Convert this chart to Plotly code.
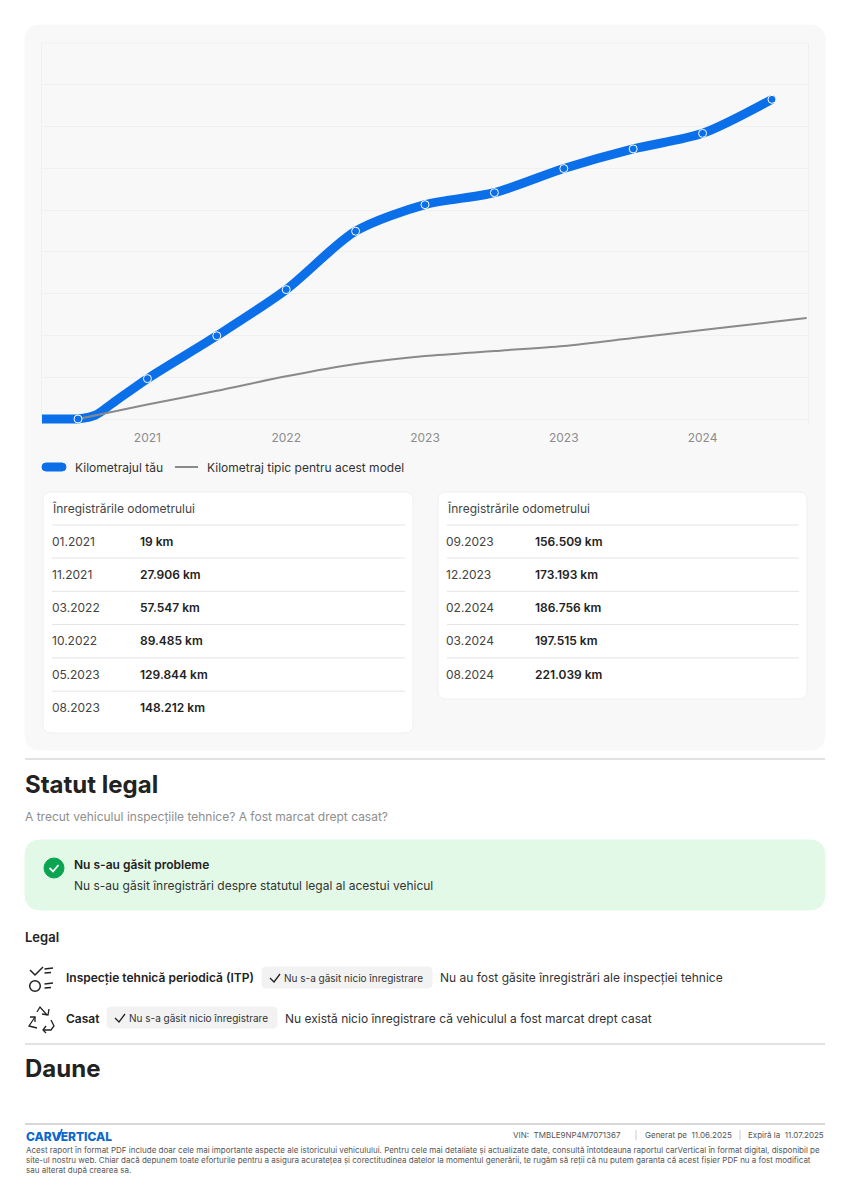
import plotly.graph_objects as go

W = 849
H = 1200
FONT = 'Inter'

# valori
point_index = [0, 1, 2, 3, 4, 5, 6, 7, 8, 9, 10]
odometer_km = [19, 27906, 57547, 89485, 129844, 148212, 156509, 173193, 186756, 197515, 221039]
odometer_dates = ['01.2021', '11.2021', '03.2022', '10.2022', '05.2023', '08.2023',
                  '09.2023', '12.2023', '02.2024', '03.2024', '08.2024']
# portiunea plata de la inceputul curbei
lead_in_index = [-0.519, -0.1]
lead_in_km = [19, 19]
early_index = [0.25, 0.5]
early_km = [2600, 11000]

typical_index = [0, 1, 2, 3, 4, 5, 6, 7, 8, 9, 10, 10.5]
typical_km = [19, 10000, 19500, 29500, 38000, 43500, 47000, 50500, 56000, 61500, 67000, 69800]

tick_index = [1, 3, 5, 7, 9]
tick_labels = ['2021', '2022', '2023', '2023', '2024']


def px(x):
    return x / W


def py(y):
    return 1 - y / H


def rounded(x0, y0, x1, y1, r):
    p = [(x0 + r, y0), (x1 - r, y0), (x1, y0), (x1, y0 + r), (x1, y1 - r), (x1, y1),
         (x1 - r, y1), (x0 + r, y1), (x0, y1), (x0, y1 - r), (x0, y0 + r), (x0, y0), (x0 + r, y0)]
    p = [(px(a), py(b)) for a, b in p]
    s = f'M{p[0][0]},{p[0][1]} L{p[1][0]},{p[1][1]} '
    s += f'Q{p[2][0]},{p[2][1]} {p[3][0]},{p[3][1]} L{p[4][0]},{p[4][1]} '
    s += f'Q{p[5][0]},{p[5][1]} {p[6][0]},{p[6][1]} L{p[7][0]},{p[7][1]} '
    s += f'Q{p[8][0]},{p[8][1]} {p[9][0]},{p[9][1]} L{p[10][0]},{p[10][1]} '
    s += f'Q{p[11][0]},{p[11][1]} {p[12][0]},{p[12][1]} Z'
    return s


shapes = []
annotations = []


def box(x0, y0, x1, y1, r, fill, line=None):
    shapes.append(dict(type='path', xref='paper', yref='paper', path=rounded(x0, y0, x1, y1, r),
                       fillcolor=fill, line=dict(color=line or fill, width=1), layer='below'))


def hline(x0, x1, y, color='#e4e4e4', width=1):
    shapes.append(dict(type='line', xref='paper', yref='paper', x0=px(x0), x1=px(x1), y0=py(y), y1=py(y),
                       line=dict(color=color, width=width), layer='below'))


def stroke(points, color='#222222', width=1.3):
    s = 'M' + ' L'.join(f'{px(a)},{py(b)}' for a, b in points)
    shapes.append(dict(type='path', xref='paper', yref='paper', path=s,
                       line=dict(color=color, width=width), layer='above'))


def circle(cx, cy, r, fill=None, color='#222222', width=1.3):
    shapes.append(dict(type='circle', xref='paper', yref='paper', x0=px(cx - r), x1=px(cx + r),
                       y0=py(cy - r), y1=py(cy + r), fillcolor=fill or 'rgba(0,0,0,0)',
                       line=dict(color=color, width=width), layer='above'))


def text(x, y, s, size=12, color='#333333', weight=400, anchor='left'):
    annotations.append(dict(x=px(x), y=py(y), xref='paper', yref='paper', text=s, showarrow=False,
                            xanchor=anchor, yanchor='middle', align='left', borderpad=0, borderwidth=0,
                            font=dict(family=FONT, size=size, color=color, weight=weight)))


def km_label(v):
    return f'{v:,}'.replace(',', '.') + ' km'


def odometer_table(x0, x1, y1, dates, values):
    box(x0, 492, x1, y1, 8, '#ffffff', '#f0f0f0')
    text(x0 + 8.5, 508, 'Înregistrările odometrului', 12, '#444444')
    hline(x0 + 9, x1 - 8, 525)
    for i, (d, v) in enumerate(zip(dates, values)):
        y = 541 + i * 33.3
        text(x0 + 8.5, y, d, 12, '#444444')
        text(x0 + 97, y, km_label(v), 12, '#222222', 600)
        if i < len(dates) - 1:
            hline(x0 + 9, x1 - 8, y + 17)


# fundaluri
box(25, 25, 825, 750, 16, '#f8f8f8')
stroke([(42, 43), (808, 43)], '#f0f0f0', 1)

# legenda
box(42, 463, 66, 471, 4, '#0a6fe8')
text(75, 467, 'Kilometrajul tău', 12, '#333333')
hline(175, 198, 467, '#8a8a8a', 2)
text(207, 467, 'Kilometraj tipic pentru acest model', 12, '#333333')

odometer_table(43, 413, 733, odometer_dates[:6], odometer_km[:6])
odometer_table(438, 807, 699, odometer_dates[6:], odometer_km[6:])

# statut legal
hline(25, 825, 759, '#e2e2e2', 2)
text(25, 784, 'Statut legal', 24, '#222222', 700)
text(25, 816, 'A trecut vehiculul inspecțiile tehnice? A fost marcat drept casat?', 12, '#8e8e8e')
box(25, 840, 825, 910, 16, '#e3f9e7')
circle(54, 868, 10, '#0ba552', '#0ba552', 1)
stroke([(49.5, 868), (53, 871.5), (58.5, 865)], '#ffffff', 1.8)
text(74, 864, 'Nu s-au găsit probleme', 12, '#222222', 600)
text(74, 885, 'Nu s-au găsit înregistrări despre statutul legal al acestui vehicul', 12, '#333333')

text(25, 936.5, 'Legal', 13, '#222222', 600)

# iconite
stroke([(30, 970), (35, 975), (43, 967)], width=1.5)
stroke([(44.5, 969), (53, 968)])
stroke([(44.5, 973), (51, 972.5)])
circle(35, 986, 5.3, width=1.5)
stroke([(44.5, 984), (53, 983)])
stroke([(44.5, 988), (51, 987.5)])
stroke([(37, 1012), (40, 1007), (47, 1015)])
stroke([(49, 1009), (48, 1015), (42, 1014)])
stroke([(35, 1017), (29, 1026), (37, 1028)])
stroke([(30, 1017), (35, 1017), (35, 1022)])
stroke([(51, 1020), (54, 1026), (51, 1030), (43, 1030)])
stroke([(46, 1026), (43, 1030), (46, 1033)])

text(66, 978, 'Inspecție tehnică periodică (ITP)', 12, '#222222', 600)
box(262, 967, 432, 988, 4, '#f2f2f2')
stroke([(270, 978), (274, 982), (280, 974)])
text(284, 978, 'Nu s-a găsit nicio înregistrare', 10, '#333333')
text(440, 978, 'Nu au fost găsite înregistrări ale inspecției tehnice', 12, '#333333')

text(66, 1018, 'Casat', 12, '#222222', 600)
box(107, 1007, 277, 1028, 4, '#f2f2f2')
stroke([(115, 1018), (119, 1022), (125, 1014)])
text(129, 1018, 'Nu s-a găsit nicio înregistrare', 10, '#333333')
text(285, 1018, 'Nu există nicio înregistrare că vehiculul a fost marcat drept casat', 12, '#333333')

hline(25, 825, 1044, '#e2e2e2', 2)
text(25, 1068, 'Daune', 24, '#222222', 700)

# subsol
hline(25, 825, 1124, '#d8d8d8', 2)
text(26, 1136, 'CARVERTICAL', 12, '#0b68cc', 800)
stroke([(58, 1140), (62, 1129)], '#0b68cc', 1.6)
text(513, 1135, 'VIN:  TMBLE9NP4M7071367', 8, '#555555')
shapes.append(dict(type='line', xref='paper', yref='paper', x0=px(636), x1=px(636), y0=py(1130), y1=py(1140),
                   line=dict(color='#cccccc', width=1)))
text(645, 1135, 'Generat pe  11.06.2025', 8, '#555555')
shapes.append(dict(type='line', xref='paper', yref='paper', x0=px(740), x1=px(740), y0=py(1130), y1=py(1140),
                   line=dict(color='#cccccc', width=1)))
text(748, 1135, 'Expiră la  11.07.2025', 8, '#555555')
text(26, 1150, 'Acest raport în format PDF include doar cele mai importante aspecte ale istoricului vehiculului. '
               'Pentru cele mai detaliate și actualizate date, consultă întotdeauna raportul carVertical în format digital, disponibil pe', 8, '#555555')
text(26, 1160, 'site-ul nostru web. Chiar dacă depunem toate eforturile pentru a asigura acuratețea și corectitudinea '
               'datelor la momentul generării, te rugăm să reții că nu putem garanta că acest fișier PDF nu a fost modificat', 8, '#555555')
text(26, 1170, 'sau alterat după crearea sa.', 8, '#555555')

fig = go.Figure()
fig.add_trace(go.Scatter(x=lead_in_index + point_index[:1] + early_index + point_index[1:],
                         y=lead_in_km + odometer_km[:1] + early_km + odometer_km[1:], mode='lines',
                         name='Kilometrajul tău', cliponaxis=False,
                         line=dict(color='#0a6fe8', width=9, shape='spline', smoothing=0.8, simplify=False)))
fig.add_trace(go.Scatter(x=typical_index, y=typical_km, mode='lines',
                         name='Kilometraj tipic pentru acest model', cliponaxis=False,
                         line=dict(color='#8a8a8a', width=2, shape='spline', smoothing=0.8, simplify=False)))
fig.add_trace(go.Scatter(x=point_index, y=odometer_km, mode='markers', cliponaxis=False,
                         marker=dict(color='#0a6fe8', size=8, line=dict(color='#ffffff', width=1))))

# zona de desen coboara 5px sub zero ca linia groasa sa nu fie taiata
fig.update_layout(
    width=W, height=H, margin=dict(l=0, r=0, t=0, b=0),
    paper_bgcolor='#ffffff', plot_bgcolor='#f9f9f9',
    font=dict(family=FONT, size=12, color='#333333'),
    shapes=shapes, annotations=annotations,
    showlegend=False, hovermode=False,
    xaxis=dict(domain=[px(42), px(808)], range=[-0.519, 10.519], tickmode='array',
               tickvals=tick_index, ticktext=tick_labels, showgrid=False, zeroline=False,
               showline=False, ticks='outside', ticklen=3,
               tickcolor='rgba(0,0,0,0)', tickfont=dict(family=FONT, size=12, color='#8c8c8c')),
    yaxis=dict(domain=[py(424), py(43)], range=[-3457, 260000], tick0=0, dtick=260000 / 9,
               showticklabels=False, ticks='', gridcolor='#f0f0f0', gridwidth=1, zeroline=True,
               zerolinecolor='#f0f0f0', zerolinewidth=1,
               showline=True, mirror=True, linecolor='#f0f0f0'),
)

# pagina are margine implicita de 8px
fig.write_html('out.html', config={'displayModeBar': False}, post_script="document.body.style.margin='0';")
